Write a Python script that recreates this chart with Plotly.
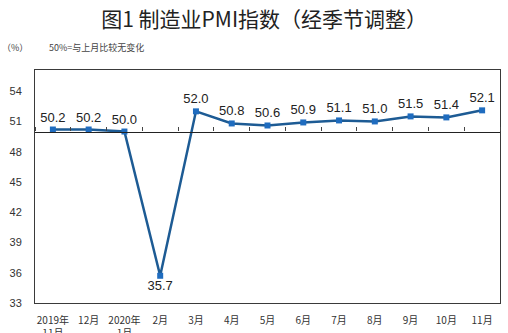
import plotly.graph_objects as go

categories = ["2019年<br>11月", "12月", "2020年<br>1月", "2月", "3月", "4月", "5月",
              "6月", "7月", "8月", "9月", "10月", "11月"]
pmi = [50.2, 50.2, 50.0, 35.7, 52.0, 50.8, 50.6, 50.9, 51.1, 51.0, 51.5, 51.4, 52.1]
y_ticks = [33, 36, 39, 42, 45, 48, 51, 54]
y_range = [33, 56.1]
baseline = 50

label_pos = ["bottom center" if v < baseline else "top center" for v in pmi]

fig = go.Figure()
fig.add_trace(go.Scatter(
    x=categories, y=pmi, mode="lines+markers+text",
    line=dict(color="#1d5b94", width=2.5),
    marker=dict(symbol="square", size=6, color="#1f6cbf"),
    text=[f"{v:.1f}" for v in pmi], textposition=label_pos,
    textfont=dict(family="Liberation Sans, Arial", size=13, color="#222222"),
    cliponaxis=False, showlegend=False,
))
# invisible trace on the overlay axis carrying the 50 baseline axis
fig.add_trace(go.Scatter(x=categories, y=pmi, xaxis="x2", mode="none",
                         showlegend=False, hoverinfo="skip"))

fig.update_layout(
    width=508, height=333,
    margin=dict(l=35, r=8, t=70, b=30, autoexpand=False),
    paper_bgcolor="white", plot_bgcolor="white",
    title=dict(text="图1 制造业PMI指数（经季节调整）", x=0.52, xanchor="center",
               y=0.94, yanchor="middle",
               font=dict(family="Noto Sans CJK SC", size=21, color="#222222")),
    xaxis=dict(type="category", range=[-0.5, 12.5], showline=True, mirror=True,
               linecolor="#3a3a3a", linewidth=1, showgrid=False, ticks="",
               ticklabelstandoff=8, automargin=False,
               tickfont=dict(family="Noto Sans CJK SC", size=10, color="#333333")),
    xaxis2=dict(type="category", overlaying="x", matches="x", side="top",
                anchor="free",
                position=(baseline - y_range[0]) / (y_range[1] - y_range[0]),
                showline=True, linecolor="#222222", linewidth=1.2,
                ticks="outside", ticklen=4, tickcolor="#444444",
                tickson="boundaries", showticklabels=False, showgrid=False),
    yaxis=dict(range=y_range, tickvals=y_ticks, showgrid=False, showline=True,
               mirror=True, linecolor="#3a3a3a", linewidth=1, ticks="",
               ticklabelstandoff=10, zeroline=False, automargin=False,
               tickfont=dict(family="Liberation Sans, Arial", size=11, color="#333333")),
)

fig.add_annotation(text="（%）", xref="paper", yref="paper", x=-0.075, y=1.06,
                   xanchor="left", yanchor="bottom", showarrow=False,
                   font=dict(family="Noto Sans CJK SC", size=9, color="#444444"))
fig.add_annotation(text="50%=与上月比较无变化", xref="paper", yref="paper", x=0.025, y=1.06,
                   xanchor="left", yanchor="bottom", showarrow=False,
                   font=dict(family="Noto Sans CJK SC", size=9, color="#444444"))

fig.write_html("out.html")
